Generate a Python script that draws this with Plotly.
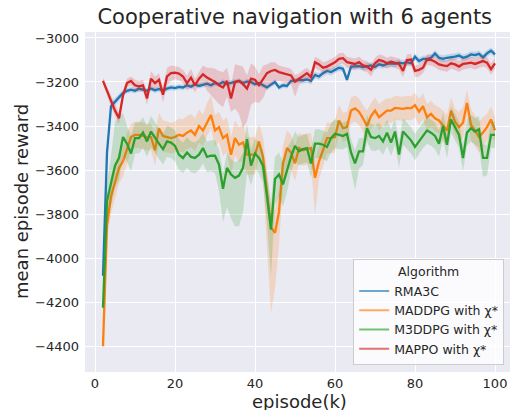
import plotly.graph_objects as go

episodes = list(range(2, 101))

rma3c = [-4080, -3520, -3310, -3290, -3270, -3250, -3240, -3235, -3240, -3230,
         -3235, -3240, -3230, -3238, -3232, -3240, -3230, -3225, -3228, -3222,
         -3225, -3215, -3222, -3210, -3218, -3212, -3208, -3215, -3205, -3210,
         -3200, -3208, -3205, -3200, -3195, -3205, -3198, -3200, -3210, -3205,
         -3215, -3225, -3212, -3200, -3225, -3215, -3218, -3195, -3195, -3190,
         -3192, -3188, -3195, -3168, -3175, -3160, -3150, -3155, -3145, -3135,
         -3140, -3190, -3130, -3130, -3128, -3132, -3130, -3125, -3132, -3120,
         -3125, -3118, -3115, -3118, -3112, -3115, -3110, -3115, -3085, -3105,
         -3095, -3095, -3090, -3070, -3090, -3095, -3090, -3088, -3085, -3080,
         -3090, -3085, -3075, -3078, -3072, -3088, -3070, -3058, -3075]

maddpg = [-4400, -3850, -3720, -3650, -3590, -3560, -3500, -3450, -3440, -3440,
          -3445, -3450, -3450, -3510, -3410, -3445, -3450, -3455, -3450, -3440,
          -3445, -3430, -3420, -3440, -3400, -3420, -3385, -3350, -3420, -3405,
          -3455, -3440, -3530, -3455, -3485, -3475, -3530, -3530, -3530, -3470,
          -3540, -3700, -3860, -3885, -3790, -3570, -3500, -3520, -3570, -3500,
          -3510, -3505, -3500, -3635, -3560, -3510, -3455, -3455, -3450, -3375,
          -3410, -3405, -3330, -3320, -3335, -3365, -3400, -3355, -3330, -3360,
          -3345, -3330, -3330, -3318, -3320, -3322, -3318, -3320, -3305, -3335,
          -3310, -3360, -3345, -3365, -3375, -3400, -3420, -3330, -3380, -3405,
          -3385, -3295, -3395, -3420, -3450, -3430, -3405, -3370, -3420]

m3ddpg = [-4225, -3740, -3660, -3580, -3545, -3450, -3480, -3525, -3455, -3455,
          -3430, -3470, -3425, -3455, -3480, -3505, -3470, -3475, -3490, -3530,
          -3545, -3520, -3540, -3545, -3530, -3500, -3540, -3535, -3535, -3575,
          -3685, -3590, -3620, -3635, -3625, -3590, -3460, -3580, -3525, -3545,
          -3580, -3720, -3870, -3640, -3620, -3665, -3600, -3540, -3490, -3515,
          -3505, -3500, -3570, -3480, -3480, -3485, -3495, -3455, -3435, -3440,
          -3445, -3435, -3520, -3570, -3515, -3515, -3410, -3450, -3455, -3445,
          -3470, -3430, -3475, -3425, -3530, -3425, -3445, -3465, -3495, -3470,
          -3440, -3420, -3430, -3445, -3480, -3400, -3485, -3370, -3405, -3440,
          -3545, -3430, -3410, -3425, -3415, -3545, -3545, -3440, -3440]

mappo = [-3195, -3240, -3290, -3330, -3365, -3260, -3205, -3195, -3215, -3220,
         -3215, -3275, -3185, -3205, -3190, -3258, -3175, -3160, -3158, -3162,
         -3175, -3205, -3180, -3215, -3185, -3165, -3180, -3190, -3200, -3215,
         -3225, -3195, -3275, -3200, -3195, -3210, -3230, -3185, -3190, -3215,
         -3185, -3160, -3150, -3145, -3155, -3160, -3165, -3170, -3198, -3185,
         -3170, -3160, -3178, -3110, -3120, -3135, -3130, -3120, -3110, -3095,
         -3092, -3110, -3115, -3118, -3110, -3125, -3130, -3145, -3115, -3100,
         -3105, -3115, -3108, -3112, -3118, -3150, -3100, -3098, -3150, -3145,
         -3135, -3098, -3100, -3108, -3120, -3125, -3128, -3115, -3120, -3130,
         -3118, -3115, -3112, -3118, -3110, -3105, -3112, -3142, -3115]

# confidence band extents (below / above the mean line)
rma3c_dn = [10, 30, 20, 18, 15, 15, 12, 12, 12, 12] + [12] * 40 + [15] * 49
rma3c_up = [10, 30, 20, 18, 15, 15, 12, 12, 12, 12] + [12] * 40 + [15] * 49

maddpg_dn = [30, 60, 80, 80, 70, 70, 70, 60, 60, 60,
             60, 60, 60, 70, 70, 70, 70, 70, 70, 75,
             75, 75, 75, 75, 75, 70, 60, 60, 70, 70,
             80, 80, 90, 80, 80, 80, 90, 90, 90, 80,
             100, 250, 390, 250, 150, 90, 80, 80, 80, 70,
             70, 70, 70, 170, 80, 70, 70, 70, 70, 60,
             60, 60, 60, 60, 60, 60, 70, 60, 60, 60,
             60, 55, 55, 55, 55, 55, 55, 55, 55, 60,
             60, 60, 60, 60, 60, 70, 70, 60, 60, 70,
             70, 60, 70, 70, 70, 70, 60, 60, 60]
maddpg_up = [20, 60, 80, 80, 70, 70, 70, 60, 60, 60,
             60, 60, 60, 70, 70, 70, 70, 70, 70, 75,
             75, 75, 75, 75, 75, 70, 90, 90, 70, 70,
             80, 80, 80, 80, 80, 80, 80, 80, 80, 80,
             90, 100, 100, 100, 100, 80, 80, 80, 80, 70,
             70, 70, 70, 80, 70, 70, 70, 70, 80, 70,
             70, 70, 60, 60, 60, 60, 70, 60, 60, 60,
             60, 55, 55, 55, 55, 55, 55, 55, 55, 60,
             60, 60, 60, 60, 60, 70, 70, 60, 60, 70,
             70, 60, 70, 70, 70, 70, 60, 60, 60]

m3ddpg_dn = [20, 80, 100, 100, 100, 90, 80, 80, 70, 70,
             70, 70, 70, 70, 70, 70, 70, 70, 70, 70,
             70, 70, 70, 70, 70, 70, 70, 70, 80, 120,
             150, 180, 200, 220, 230, 200, 150, 90, 70, 70,
             80, 120, 210, 120, 100, 100, 100, 70, 65, 65,
             65, 65, 65, 65, 65, 65, 65, 65, 65, 65,
             60, 60, 80, 120, 80, 60, 60, 60, 60, 60,
             60, 60, 60, 60, 60, 60, 60, 60, 60, 60,
             60, 60, 60, 60, 60, 60, 60, 60, 60, 60,
             60, 60, 60, 60, 85, 85, 80, 60, 60]
m3ddpg_up = [20, 80, 120, 200, 190, 110, 80, 80, 70, 70,
             70, 70, 70, 70, 70, 70, 70, 70, 70, 70,
             70, 70, 70, 70, 70, 70, 70, 70, 70, 70,
             70, 70, 70, 70, 70, 70, 70, 70, 70, 70,
             70, 100, 120, 100, 100, 100, 100, 70, 65, 65,
             65, 65, 65, 65, 65, 65, 65, 65, 65, 65,
             60, 60, 60, 60, 60, 60, 60, 60, 60, 60,
             60, 60, 60, 60, 60, 60, 60, 60, 60, 60,
             60, 60, 60, 60, 60, 60, 60, 60, 60, 60,
             60, 60, 60, 60, 60, 60, 60, 60, 60]

mappo_dn = [15, 20, 25, 25, 25, 20, 20, 20, 25, 25,
            25, 30, 35, 30, 30, 35, 40, 35, 30, 30,
            30, 35, 40, 30, 30, 40, 60, 70, 80, 85,
            90, 70, 60, 120, 150, 200, 150, 120, 100, 80,
            90, 70, 60, 50, 40, 40, 40, 40, 70, 30,
            30, 30, 30, 25, 25, 25, 25, 25, 25, 25,
            25, 25, 25, 25, 25, 25, 25, 30, 25, 25,
            25, 25, 25, 25, 25, 30, 25, 25, 30, 30,
            25, 25, 25, 25, 25, 25, 25, 25, 25, 25,
            25, 25, 25, 25, 25, 25, 25, 25, 25]
mappo_up = [15, 20, 25, 25, 25, 20, 20, 20, 25, 25,
            25, 30, 35, 30, 30, 35, 40, 35, 30, 30,
            30, 35, 40, 30, 30, 40, 45, 55, 60, 65,
            70, 60, 60, 80, 70, 80, 60, 70, 60, 50,
            60, 40, 40, 35, 30, 30, 30, 30, 30, 25,
            25, 25, 25, 25, 25, 25, 25, 25, 25, 25,
            25, 25, 25, 25, 25, 25, 25, 25, 25, 25,
            25, 25, 25, 25, 25, 25, 25, 25, 25, 25,
            25, 25, 25, 25, 25, 25, 25, 25, 25, 25,
            25, 25, 25, 25, 25, 25, 25, 25, 25]

series_names = ["RMA3C", "MADDPG with χ*", "M3DDPG with χ*", "MAPPO with χ*"]
series_values = [rma3c, maddpg, m3ddpg, mappo]
series_dn = [rma3c_dn, maddpg_dn, m3ddpg_dn, mappo_dn]
series_up = [rma3c_up, maddpg_up, m3ddpg_up, mappo_up]
colors = ["31,119,180", "255,127,14", "44,160,44", "214,39,40"]

x_ticks = [0, 20, 40, 60, 80, 100]
y_ticks = [-4400, -4200, -4000, -3800, -3600, -3400, -3200, -3000]
y_tick_labels = ["−4400", "−4200", "−4000", "−3800", "−3600", "−3400", "−3200", "−3000"]

FONT = "DejaVu Sans"
TXT = "#262626"

fig = go.Figure()
for name, vals, dn, up, c in zip(series_names, series_values, series_dn, series_up, colors):
    lo = [v - d for v, d in zip(vals, dn)]
    hi = [v + u for v, u in zip(vals, up)]
    fig.add_trace(go.Scatter(
        x=episodes + episodes[::-1], y=hi + lo[::-1],
        fill="toself", fillcolor=f"rgba({c},0.2)", line=dict(width=0),
        mode="lines", hoverinfo="skip", showlegend=False))
    fig.add_trace(go.Scatter(
        x=episodes, y=vals, mode="lines", name=name,
        line=dict(color=f"rgb({c})", width=2.3), showlegend=False))

for name, c in zip(series_names, colors):
    fig.add_trace(go.Scatter(
        x=[None], y=[None], mode="lines", name=name,
        line=dict(color=f"rgba({c},0.65)", width=2)))

fig.update_layout(
    width=510, height=410,
    margin=dict(l=85, r=0, t=32, b=38, autoexpand=False),
    paper_bgcolor="white", plot_bgcolor="#EAEAF2",
    font=dict(family=FONT, color=TXT, size=13),
    title=dict(text="Cooperative navigation with 6 agents",
               font=dict(family=FONT, size=21, color=TXT),
               x=0.578, xref="container", xanchor="center",
               y=1 - 17 / 410, yref="container", yanchor="middle"),
    legend=dict(
        x=0.631, y=0.02, xanchor="left", yanchor="bottom",
        bgcolor="rgba(255,255,255,0.8)", bordercolor="#cccccc", borderwidth=1,
        font=dict(family=FONT, size=12.5, color=TXT),
        title=dict(text="Algorithm", side="top center",
                   font=dict(family=FONT, size=12.5, color=TXT)),
        tracegroupgap=0),
    showlegend=True,
    annotations=[
        dict(text="episode(k)", xref="paper", yref="paper",
             x=(299 - 85) / 425, y=-(401.5 - 371.7) / 339.4,
             xanchor="center", yanchor="middle", showarrow=False,
             font=dict(family=FONT, size=18, color=TXT)),
        dict(text="mean episode reward", xref="paper", yref="paper",
             x=(21 - 85) / 425, y=0.5, textangle=-90,
             xanchor="center", yanchor="middle", showarrow=False,
             font=dict(family=FONT, size=18, color=TXT)),
    ],
)
fig.update_xaxes(
    range=[-2.5, 103.75], tickvals=x_ticks, showgrid=True, gridcolor="white",
    gridwidth=1, zeroline=False, showline=False, ticks="", ticklabelstandoff=2,
    automargin=False,
    tickfont=dict(family=FONT, size=13, color=TXT))
fig.update_yaxes(
    range=[-4517, -2973], tickvals=y_ticks, ticktext=y_tick_labels, showgrid=True,
    gridcolor="white", gridwidth=1, zeroline=False, showline=False, ticks="",
    ticklabelstandoff=5, automargin=False,
    tickfont=dict(family=FONT, size=13, color=TXT))

fig.write_html(
    "out.html",
    config={"displayModeBar": False},
    post_script="document.body.style.margin='0px';document.body.style.overflow='hidden';")
